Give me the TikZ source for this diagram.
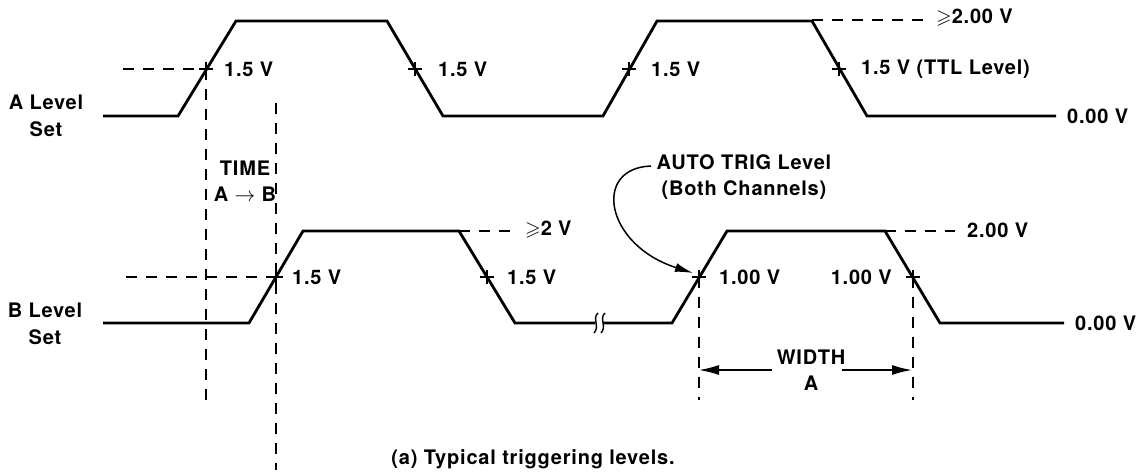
\documentclass[tikz,border=0pt]{standalone}
\usepackage{fontspec}
\usepackage{amssymb}
\setmainfont{TeX Gyre Heros}[LetterSpace=4]
\usetikzlibrary{arrows.meta,calc}
\begin{document}
\begin{tikzpicture}[x=1pt,y=-1pt,
  wave/.style={line width=2.8pt,line join=miter},
  dline/.style={line width=1.4pt,dash pattern=on 11pt off 9pt},
  tickmark/.style={line width=1.5pt},
  lbl/.style={inner sep=0pt,font=\fontsize{20}{26.5}\selectfont\bfseries},
  arr/.style={line width=1.5pt,-{Latex[length=20pt,width=10pt]}},
  crs/.pic={\draw[tickmark] (-7,0)--(7,0) (0,-7)--(0,7);}]
\useasboundingbox (0,0) rectangle (1140,472);
% ---- wave A
\draw[wave] (103,116) -- (178,116) -- (236,21) -- (387,21) -- (443,116) -- (603,116)
  -- (657,21) -- (812,21) -- (867,116) -- (1056,116);
\coordinate (a1) at (206,69);
\coordinate (a2) at (415,69);
\coordinate (a3) at (629,69);
\coordinate (a4) at (839,69);
\foreach \c in {a1,a2,a3,a4} \pic at (\c) {crs};
% ---- wave B
\draw[wave] (103,323) -- (249,323) -- (303,231) -- (459,231) -- (515,323) -- (595,323);
\draw[wave] (603,323) -- (672,323) -- (727,231) -- (885,231) -- (940,323) -- (1064,323);
\draw[line width=1.4pt] (598,313) .. controls (592,318) and (600,327) .. (594,333);
\draw[line width=1.4pt] (605,313) .. controls (599,318) and (607,327) .. (601,333);
\coordinate (b1) at (276,277);
\coordinate (b2) at (487,277);
\coordinate (b3) at (699,277);
\coordinate (b4) at (913,277);
\foreach \c in {b1,b2,b3,b4} \pic at (\c) {crs};
% ---- dashed guides
\coordinate (la) at (123,69);
\coordinate (lb) at (126,277);
\draw[dline] (la) -- (a1);
\draw[dline] (lb) -- (b1);
\coordinate (a1d) at (206,400);
\draw[dline] (a1) -- (a1d);
\coordinate (b1u) at (276,103);
\coordinate (b1d) at (276,470);
\draw[dline] (b1u) -- (b1d);
\coordinate (ta) at (812,20);
\coordinate (tae) at (925,20);
\draw[dline] (ta) -- (tae);
\coordinate (tb) at (459,231);
\coordinate (tbe) at (512,231);
\draw[dline] (tb) -- (tbe);
\coordinate (tc) at (885,231);
\coordinate (tce) at (955,231);
\draw[dline] (tc) -- (tce);
\coordinate (b3d) at (699,400);
\coordinate (b4d) at (913,400);
\draw[dline] (b3) -- (b3d);
\draw[dline] (b4) -- (b4d);
% ---- labels A
\node[lbl,align=center] (alev) at (46,116) {A Level\\Set};
\node[lbl,anchor=west] (la1) at (224,69) {1.5 V};
\node[lbl,anchor=west] (la2) at (438,69) {1.5 V};
\node[lbl,anchor=west] (la3) at (651,69) {1.5 V};
\node[lbl,anchor=west] (la4) at (861,69) {1.5 V (TTL Level)};
\node[lbl,anchor=west] (lge) at (936,18) {$\geqslant$2.00 V};
\node[lbl,anchor=west] (la0) at (1067,116) {0.00 V};
\node[lbl,align=center] (time) at (245,181) {TIME\\A $\rightarrow$ B};
% ---- labels B
\node[lbl,align=center] (blev) at (45,324) {B Level\\Set};
\node[lbl,anchor=west] (lb1) at (292,277) {1.5 V};
\node[lbl,anchor=west] (lb2) at (507,277) {1.5 V};
\node[lbl,anchor=west] (lb3) at (719,277) {1.00 V};
\node[lbl,anchor=east] (lb4) at (892,277) {1.00 V};
\node[lbl,anchor=west] (lge2) at (525,230) {$\geqslant$2 V};
\node[lbl,anchor=west] (l2) at (967,230) {2.00 V};
\node[lbl,anchor=west] (lb0) at (1075,323) {0.00 V};
\node[lbl,align=center] (auto) at (744,177) {AUTO TRIG Level\\(Both Channels)};
\node[lbl,align=center] (width) at (811,370) {WIDTH\\A};
\coordinate (wl) at (772,370);
\coordinate (wle) at (699,370);
\coordinate (wr) at (842,370);
\coordinate (wre) at (912,370);
\draw[arr] (wl) -- (wle);
\draw[arr] (wr) -- (wre);
\coordinate (as) at (651,166);
\coordinate (ae) at (693,273);
\draw[arr,-{Latex[length=18pt,width=9pt]}] (as) .. controls (592,168) and (605,245) .. (ae);
\node[lbl] (cap) at (533,459) {(a) Typical triggering levels.};
\end{tikzpicture}
\end{document}
